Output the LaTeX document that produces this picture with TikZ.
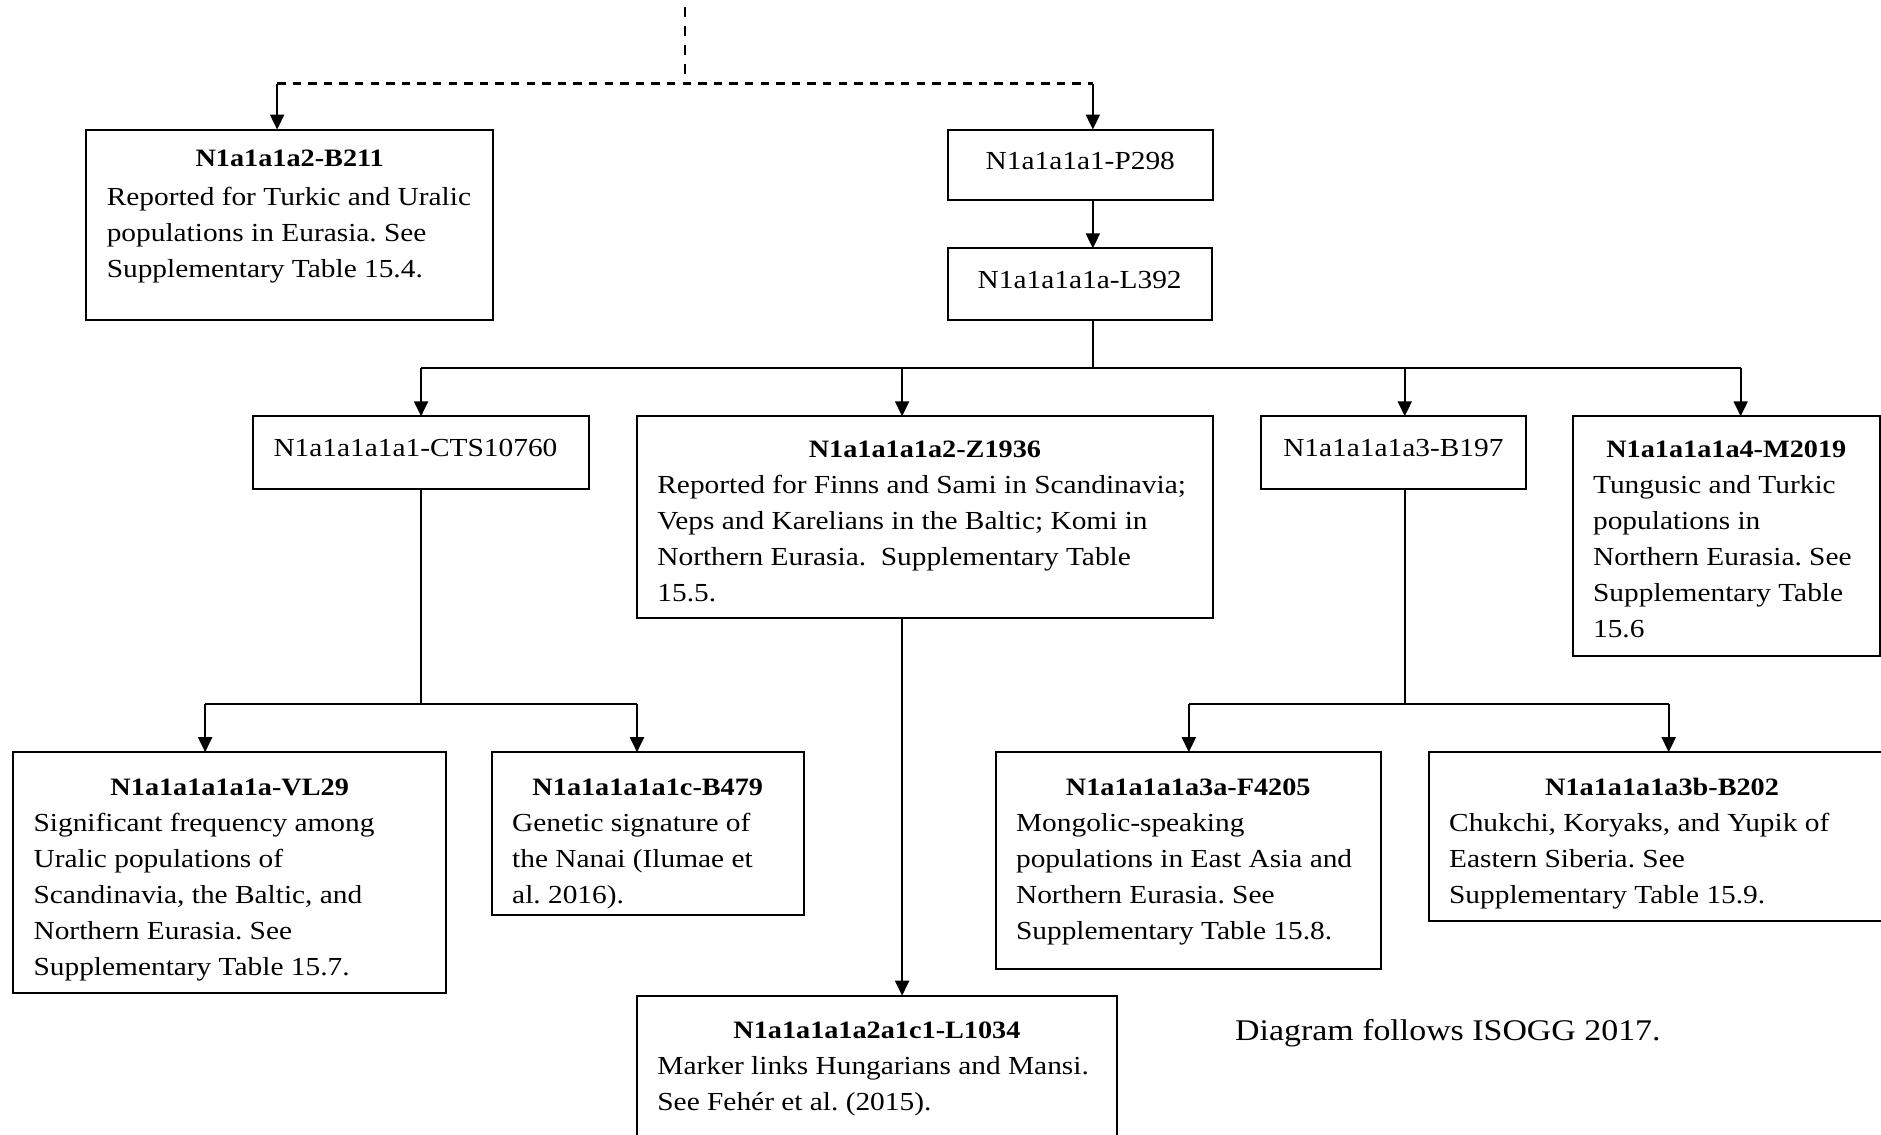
\documentclass[tikz,border=0pt]{standalone}
\usepackage{fontspec}
\setmainfont{Liberation Serif}[FakeStretch=1.13]
\usetikzlibrary{arrows.meta}
\frenchspacing
\tikzset{
  gb/.style={draw, line width=1pt, anchor=north west, inner xsep=10.2pt, inner ysep=0pt, outer sep=0pt},
  link/.style={line width=1pt},
  arr/.style={line width=1pt, -{Triangle[width=7pt,length=7.5pt]}},
  dashv/.style={line width=1.1pt, dash pattern=on 5pt off 4.5pt},
  dashh/.style={line width=1.5pt, dash pattern=on 4.2pt off 3.6pt},
  note/.style={font=\fontsize{15}{18}\selectfont, inner sep=0pt},
}
\newcommand{\gbox}[6]{% name,l,t,r,b,content
  \node[gb, minimum width={(#4-#2)*0.6pt}, minimum height={(#5-#3)*0.6pt}] (#1) at (#2,#3)
  {\parbox[c][\dimexpr 0.6pt*\numexpr #5-#3\relax\relax][t]{\dimexpr 0.6pt*\numexpr #4-#2-34\relax\relax}{\fontsize{13}{18}\selectfont\raggedright #6}};}
\newcommand{\ttl}[2][20.5]{{\centering\rule{0pt}{#1pt}{\fontsize{12.5}{18}\selectfont\bfseries #2}\par}}
\newcommand{\one}[2][20]{{\centering\rule{0pt}{#1pt}#2\par}}
\newcommand{\bodyln}[1]{\mbox{#1}\par}
\begin{document}
\begin{tikzpicture}[x=0.6pt, y=-0.6pt]
\useasboundingbox (0,0) rectangle (1568,946);
\clip (0,0) rectangle (1568,946);

% boxes
\gbox{b211}{72}{108}{411}{267}{\ttl[18.5]{N1a1a1a2-B211}\vspace{1.5pt}\bodyln{Reported for Turkic and Uralic}\bodyln{populations in Eurasia. See}\bodyln{Supplementary Table 15.4.}}
\gbox{p298}{790}{108}{1011}{167}{\one{N1a1a1a1-P298}}
\gbox{l392}{790}{207}{1010}{267}{\one{N1a1a1a1a-L392}}
\gbox{cts}{211}{347}{491}{408}{{\raggedright\rule{0pt}{20pt}N1a1a1a1a1-CTS10760\par}}
\gbox{z1936}{531}{347}{1011}{515}{\ttl{N1a1a1a1a2-Z1936}\bodyln{Reported for Finns and Sami in Scandinavia;}\bodyln{Veps and Karelians in the Baltic; Komi in}\bodyln{Northern Eurasia.\ \ Supplementary Table}\bodyln{15.5.}}
\gbox{b197}{1051}{347}{1272}{408}{\one{N1a1a1a1a3-B197}}
\gbox{m2019}{1311}{347}{1567}{547}{\ttl{N1a1a1a1a4-M2019}\bodyln{Tungusic and Turkic}\bodyln{populations in}\bodyln{Northern Eurasia. See}\bodyln{Supplementary Table}\bodyln{15.6}}
\gbox{vl29}{11}{627}{372}{828}{\ttl[21.5]{N1a1a1a1a1a-VL29}\bodyln{Significant frequency among}\bodyln{Uralic populations of}\bodyln{Scandinavia, the Baltic, and}\bodyln{Northern Eurasia. See}\bodyln{Supplementary Table 15.7.}}
\gbox{b479}{410}{627}{670}{763}{\ttl[21.5]{N1a1a1a1a1c-B479}\bodyln{Genetic signature of}\bodyln{the Nanai (Ilumae et}\bodyln{al. 2016).}}
\gbox{l1034}{531}{830}{931}{960}{\ttl[21.5]{N1a1a1a1a2a1c1-L1034}\bodyln{Marker links Hungarians and Mansi.}\bodyln{See Fehér et al. (2015).}}
\gbox{f4205}{830}{627}{1151}{808}{\ttl[21.5]{N1a1a1a1a3a-F4205}\bodyln{Mongolic-speaking}\bodyln{populations in East Asia and}\bodyln{Northern Eurasia. See}\bodyln{Supplementary Table 15.8.}}
\gbox{b202}{1191}{627}{1580}{768}{\ttl[21.5]{N1a1a1a1a3b-B202}\bodyln{Chukchi, Koryaks, and Yupik of}\bodyln{Eastern Siberia. See}\bodyln{Supplementary Table 15.9.}}

\node[note] (isogg) at (1207,861) {Diagram follows ISOGG 2017.};

% top dashed connectors
\coordinate (top) at (571,6);
\coordinate (dj) at (571,70);
\coordinate (dl) at (231,70);
\coordinate (dr) at (911,70);
\draw[dashv] (top) -- (dj);
\draw[dashh] (dl) -- (dr);
\draw[arr] (dl) -- (dl |- b211.north);
\draw[arr] (dr) -- (dr |- p298.north);
\draw[arr] (dr |- p298.south) -- (dr |- l392.north);

% from L392
\coordinate (j1) at (911,307);
\coordinate (h1a) at (351,307);
\coordinate (h1b) at (752,307);
\coordinate (h1c) at (1171,307);
\coordinate (h1d) at (1451,307);
\draw[link] (dr |- l392.south) -- (j1);
\draw[link] (h1a) -- (h1d);
\draw[arr] (h1a) -- (h1a |- cts.north);
\draw[arr] (h1b) -- (h1b |- z1936.north);
\draw[arr] (h1c) -- (h1c |- b197.north);
\draw[arr] (h1d) -- (h1d |- m2019.north);

% from CTS10760
\coordinate (j2) at (351,587);
\coordinate (h2a) at (171,587);
\coordinate (h2b) at (531,587);
\draw[link] (h1a |- cts.south) -- (j2);
\draw[link] (h2a) -- (h2b);
\draw[arr] (h2a) -- (h2a |- vl29.north);
\draw[arr] (h2b) -- (h2b |- b479.north);

% from Z1936
\draw[arr] (h1b |- z1936.south) -- (h1b |- l1034.north);

% from B197
\coordinate (j3) at (1171,587);
\coordinate (h3a) at (991,587);
\coordinate (h3b) at (1391,587);
\draw[link] (h1c |- b197.south) -- (j3);
\draw[link] (h3a) -- (h3b);
\draw[arr] (h3a) -- (h3a |- f4205.north);
\draw[arr] (h3b) -- (h3b |- b202.north);
\end{tikzpicture}
\end{document}
